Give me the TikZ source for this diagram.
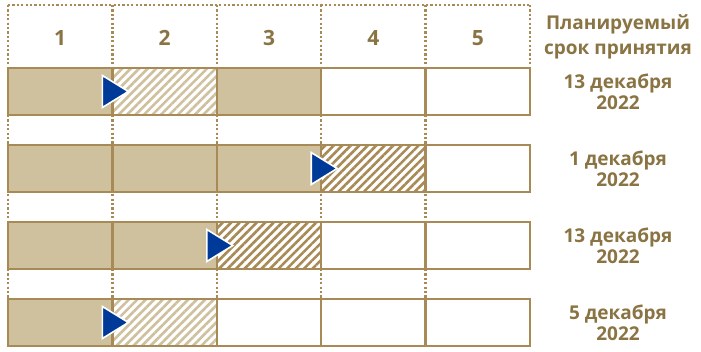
\documentclass[tikz,border=0pt]{standalone}
\usepackage{fontspec}
\setmainfont{Open Sans}
\usetikzlibrary{positioning,patterns.meta}
\definecolor{sand}{HTML}{CFC09E}
\definecolor{bronze}{HTML}{A88A56}
\definecolor{olive}{HTML}{8A7443}
\definecolor{navy}{HTML}{003A99}

\begin{document}
\begin{tikzpicture}[x=1pt,y=-1pt,
  cell/.style={draw=bronze, line width=2.4pt, outer sep=0pt,
               minimum width=104.4pt, minimum height=47pt},
  done/.style={cell, fill=sand},
  todo/.style={cell, fill=white},
  lighthatch/.style={cell, pattern={Lines[angle=45,distance=6pt,line width=2.6pt]},
                     pattern color=sand},
  darkhatch/.style={cell, pattern={Lines[angle=45,distance=6pt,line width=2.6pt]},
                    pattern color=bronze},
  grid/.style={draw=bronze, line width=2.4pt, dash pattern=on 2.2pt off 2.2pt},
  play/.style={fill=navy, draw=white, line width=1.6pt},
  lbl/.style={text=olive, font=\bfseries\fontsize{19}{21}\selectfont, align=center},
  num/.style={text=olive, font=\bfseries\fontsize{21}{21}\selectfont},
  node distance=30pt
]
\fill[white] (0,0) rectangle (701,352);
\useasboundingbox (0,0) rectangle (701,352);

% dotted frame
\draw[grid] (8,5) -- (530,5);
\foreach \x in {8,112.4,216.8,321.2,425.6}
  \draw[grid] (\x,5) -- (\x,346);
\draw[grid] (530,5) -- (530,68);

% header
\node[num] (h1) at (60.2,38)  {1};
\node[num] (h2) at (164.6,38) {2};
\node[num] (h3) at (269,38)   {3};
\node[num] (h4) at (373.4,38) {4};
\node[num] (h5) at (477.8,38) {5};
\node[lbl, font=\bfseries\fontsize{19}{25}\selectfont] (hdr) at (618,37)
  {Планируемый\\срок принятия};

% row 1
\node[done, anchor=north west] (c11) at (8,68) {};
\node[lighthatch] (c12) [right=0pt of c11] {};
\node[done]       (c13) [right=0pt of c12] {};
\node[todo]       (c14) [right=0pt of c13] {};
\node[todo]       (c15) [right=0pt of c14] {};
% row 2
\node[done]      (c21) [below=of c11] {};
\node[done]      (c22) [right=0pt of c21] {};
\node[done]      (c23) [right=0pt of c22] {};
\node[darkhatch] (c24) [right=0pt of c23] {};
\node[todo]      (c25) [right=0pt of c24] {};
% row 3
\node[done]      (c31) [below=of c21] {};
\node[done]      (c32) [right=0pt of c31] {};
\node[darkhatch] (c33) [right=0pt of c32] {};
\node[todo]      (c34) [right=0pt of c33] {};
\node[todo]      (c35) [right=0pt of c34] {};
% row 4
\node[done]       (c41) [below=of c31] {};
\node[lighthatch] (c42) [right=0pt of c41] {};
\node[todo]       (c43) [right=0pt of c42] {};
\node[todo]       (c44) [right=0pt of c43] {};
\node[todo]       (c45) [right=0pt of c44] {};

% markers
\draw[play] ([xshift=-10pt,yshift=16pt]c12.west) -- ([xshift=16pt]c12.west)
            -- ([xshift=-10pt,yshift=-16pt]c12.west) -- cycle;
\draw[play] ([xshift=-10pt,yshift=16pt]c24.west) -- ([xshift=16pt]c24.west)
            -- ([xshift=-10pt,yshift=-16pt]c24.west) -- cycle;
\draw[play] ([xshift=-10pt,yshift=16pt]c33.west) -- ([xshift=16pt]c33.west)
            -- ([xshift=-10pt,yshift=-16pt]c33.west) -- cycle;
\draw[play] ([xshift=-10pt,yshift=16pt]c42.west) -- ([xshift=16pt]c42.west)
            -- ([xshift=-10pt,yshift=-16pt]c42.west) -- cycle;

% dates
\node[lbl] (d1) at ([xshift=88pt]c15.east) {13 декабря\\2022};
\node[lbl] (d2) at ([xshift=88pt]c25.east) {1 декабря\\2022};
\node[lbl] (d3) at ([xshift=88pt]c35.east) {13 декабря\\2022};
\node[lbl] (d4) at ([xshift=88pt]c45.east) {5 декабря\\2022};
\end{tikzpicture}
\end{document}
